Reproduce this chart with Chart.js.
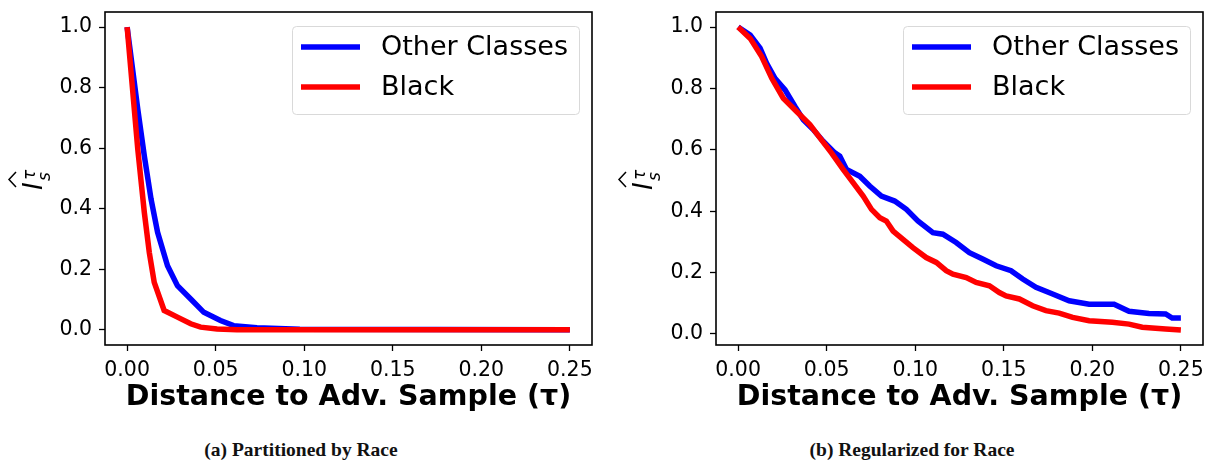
<!DOCTYPE html>
<html>
<head>
<meta charset="utf-8">
<script src="https://cdn.jsdelivr.net/npm/chart.js@4.4.0/dist/chart.umd.min.js"></script>
<style>
  body{margin:0;background:#fff;width:1213px;height:464px;overflow:hidden;position:relative;}
  canvas{position:absolute;top:0;}
  #chartA{left:0}
  #chartB{left:606px}
  .caption{position:absolute;top:439px;width:400px;text-align:center;
    font-family:"Liberation Serif",serif;font-weight:bold;font-size:19.5px;color:#111;}
</style>
</head>
<body>
<canvas id="chartA" width="606" height="420"></canvas>
<canvas id="chartB" width="607" height="420"></canvas>
<div class="caption" style="left:101px">(a) Partitioned by Race</div>
<div class="caption" style="left:712px">(b) Regularized for Race</div>
<script>
const seriesNames = ["Other Classes", "Black"];
const seriesColors = ["#0000ff", "#ff0000"];
const xTicks = [0, 0.05, 0.10, 0.15, 0.20, 0.25];
const yTicks = [0, 0.2, 0.4, 0.6, 0.8, 1.0];
const xTitle = "Distance to Adv. Sample (\u03C4)";

// (a) partitioned by race
const partOtherX = [0, 0.006, 0.0097, 0.0135, 0.0172, 0.0228, 0.0284, 0.0359, 0.0433, 0.0527, 0.0601, 0.0733, 0.0975, 0.25];
const partOtherY = [1.0, 0.729, 0.575, 0.432, 0.322, 0.212, 0.146, 0.102, 0.058, 0.031, 0.014, 0.007, 0.002, 0.0];
const partBlackX = [0, 0.006, 0.0097, 0.0125, 0.0153, 0.0209, 0.0284, 0.0359, 0.0415, 0.0508, 0.062, 0.25];
const partBlackY = [1.0, 0.597, 0.388, 0.256, 0.157, 0.064, 0.042, 0.020, 0.009, 0.003, 0.0, 0.0];

// (b) regularized for race
const regOtherX = [0, 0.0068, 0.0124, 0.0161, 0.0208, 0.0265, 0.0321, 0.0368, 0.0424, 0.048, 0.0546, 0.0574, 0.0612,
  0.0687, 0.0743, 0.0809, 0.0884, 0.095, 0.1015, 0.11, 0.1156, 0.1231, 0.1306, 0.1381, 0.1457, 0.1541, 0.1607,
  0.1682, 0.1776, 0.1869, 0.1982, 0.2123, 0.2207, 0.232, 0.2414, 0.2451, 0.25];
const regOtherY = [1.0, 0.974, 0.931, 0.882, 0.833, 0.795, 0.741, 0.698, 0.666, 0.628, 0.590, 0.579, 0.536,
  0.514, 0.482, 0.449, 0.433, 0.406, 0.368, 0.330, 0.325, 0.298, 0.265, 0.244, 0.222, 0.206, 0.179,
  0.152, 0.130, 0.108, 0.097, 0.097, 0.074, 0.067, 0.065, 0.052, 0.052];
const regBlackX = [0, 0.0068, 0.0133, 0.019, 0.0255, 0.033, 0.0405, 0.0462, 0.0527, 0.0593, 0.0649, 0.0706, 0.0753,
  0.08, 0.0837, 0.0875, 0.0931, 0.0987, 0.1062, 0.1119, 0.1175, 0.1213, 0.1288, 0.1344, 0.1419, 0.1475, 0.1513,
  0.1588, 0.1663, 0.1738, 0.1813, 0.1889, 0.1982, 0.2113, 0.2207, 0.2282, 0.2414, 0.25];
const regBlackY = [1.0, 0.963, 0.904, 0.833, 0.768, 0.725, 0.682, 0.639, 0.590, 0.536, 0.493, 0.449, 0.406,
  0.379, 0.368, 0.335, 0.308, 0.281, 0.249, 0.233, 0.206, 0.195, 0.184, 0.168, 0.157, 0.135, 0.124,
  0.114, 0.092, 0.076, 0.068, 0.054, 0.043, 0.038, 0.032, 0.022, 0.016, 0.013];

const toPoints = (xs, ys) => xs.map((x, i) => ({x: x, y: ys[i]}));

// legend box drawn inside the plot, upper right
const boxLegend = {
  id: 'boxLegend',
  afterDatasetsDraw(chart) {
    const {ctx, chartArea: a} = chart;
    const w = 287, h = 88, x = a.right - 13 - w, y = a.top + 14;
    ctx.save();
    ctx.beginPath();
    ctx.roundRect(x + 0.5, y + 0.5, w, h, 4);
    ctx.fillStyle = 'rgba(255,255,255,0.8)';
    ctx.fill();
    ctx.strokeStyle = '#d9d9d9';
    ctx.lineWidth = 1;
    ctx.stroke();
    ctx.font = '27px "DejaVu Sans"';
    ctx.textBaseline = 'middle';
    seriesNames.forEach((name, i) => {
      const ry = y + 21 + i * 40;
      ctx.strokeStyle = seriesColors[i];
      ctx.lineWidth = 5.5;
      ctx.beginPath();
      ctx.moveTo(x + 9, ry);
      ctx.lineTo(x + 68, ry);
      ctx.stroke();
      ctx.fillStyle = '#000';
      ctx.fillText(name, x + 89, ry + 1);
    });
    ctx.restore();
  }
};

// frame + y label (I hat, sub s, sup tau)
const frameAndLabel = {
  id: 'frameAndLabel',
  afterDraw(chart, args, opts) {
    const {ctx, chartArea: a} = chart;
    ctx.save();
    ctx.strokeStyle = '#000';
    ctx.lineWidth = 1.6;
    ctx.strokeRect(a.left, a.top, a.right - a.left, a.bottom - a.top);

    ctx.translate(opts.cx, 181);
    ctx.rotate(-Math.PI / 2);
    ctx.fillStyle = '#000';
    ctx.textBaseline = 'alphabetic';
    ctx.font = 'italic 26px "DejaVu Sans"';
    ctx.fillText('I', -9, 10);
    ctx.font = 'italic 17px "DejaVu Sans"';
    ctx.fillText('s', 0, 18);
    ctx.fillText('\u03C4', 1, 3);
    ctx.lineWidth = 1.5;
    ctx.beginPath();
    ctx.moveTo(-6, -16);
    ctx.lineTo(1.5, -23);
    ctx.lineTo(9, -16);
    ctx.stroke();
    ctx.restore();
  }
};

function makeChart(id, otherX, otherY, blackX, blackY, yMin, yMax, yWidth, padRight, labelX) {
  return new Chart(document.getElementById(id), {
    type: 'scatter',
    data: {
      datasets: [
        {label: seriesNames[0], data: toPoints(otherX, otherY), borderColor: seriesColors[0], order: 1},
        {label: seriesNames[1], data: toPoints(blackX, blackY), borderColor: seriesColors[1], order: 0}
      ].map(d => Object.assign(d, {showLine: true, pointRadius: 0, borderWidth: 5.5, tension: 0, fill: false}))
    },
    options: {
      responsive: false,
      animation: false,
      layout: {padding: {top: 12, right: padRight, bottom: 0, left: 0}},
      plugins: {legend: {display: false}, tooltip: {enabled: false}, frameAndLabel: {cx: labelX}},
      scales: {
        x: {
          type: 'linear', min: -0.0125, max: 0.2625,
          afterBuildTicks: s => { s.ticks = xTicks.map(v => ({value: v})); },
          afterFit: s => { s.height = 75; s.paddingLeft = 0; s.paddingRight = 0; },
          grid: {drawOnChartArea: false, drawTicks: true, tickLength: 6, tickColor: '#000', tickWidth: 1.3},
          border: {display: false},
          ticks: {autoSkip: false, maxRotation: 0, padding: 7, color: '#000',
            font: {family: 'DejaVu Sans', size: 20.5}, callback: v => v.toFixed(2)},
          title: {display: true, text: xTitle, color: '#000', padding: {top: 0, bottom: 5},
            font: {family: 'DejaVu Sans', size: 28.5, weight: 'bold'}}
        },
        y: {
          type: 'linear', min: yMin, max: yMax,
          afterBuildTicks: s => { s.ticks = yTicks.map(v => ({value: v})); },
          afterFit: s => { s.width = yWidth; s.paddingTop = 0; s.paddingBottom = 0; },
          grid: {drawOnChartArea: false, drawTicks: true, tickLength: 6, tickColor: '#000', tickWidth: 1.3},
          border: {display: false},
          ticks: {autoSkip: false, padding: 7, color: '#000',
            font: {family: 'DejaVu Sans', size: 20.5}, callback: v => v.toFixed(1)}
        }
      }
    },
    plugins: [boxLegend, frameAndLabel]
  });
}

makeChart('chartA', partOtherX, partOtherY, partBlackX, partBlackY, -0.05, 1.05, 105, 14, 32);
makeChart('chartB', regOtherX, regOtherY, regBlackX, regBlackY, -0.036, 1.049, 110, 10, 36);
</script>
</body>
</html>
